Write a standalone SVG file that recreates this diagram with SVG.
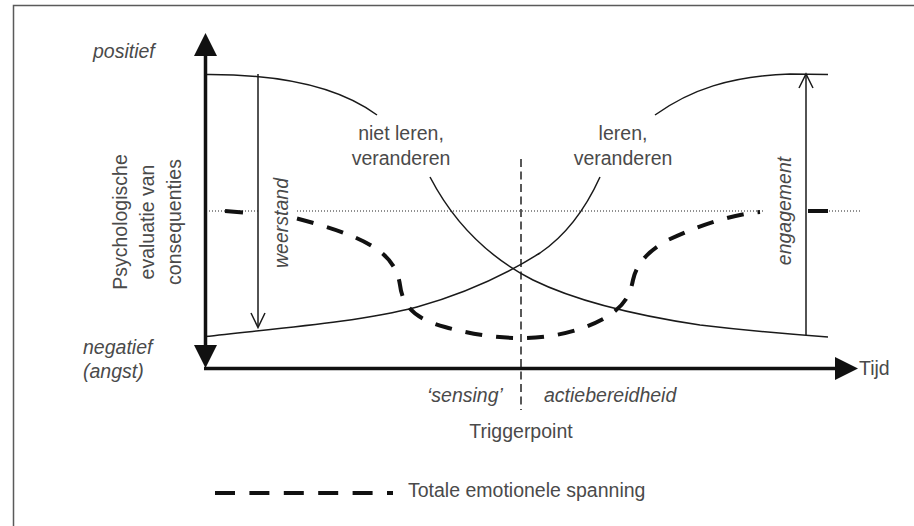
<svg xmlns="http://www.w3.org/2000/svg" width="914" height="526" viewBox="0 0 914 526">
  <style>
    .txt { font-family: "Liberation Sans", Arial, sans-serif; font-size: 19.5px; fill: #4a4a4a; }
    .it { font-style: italic; }
    .mid { text-anchor: middle; }
    .axis { stroke: #111; stroke-width: 3.5; fill: none; }
    .head { fill: #111; stroke: none; }
    .curve { stroke: #1a1a1a; stroke-width: 1.5; fill: none; }
    .tension { stroke: #111; stroke-width: 4; fill: none; }
    .dotted { stroke: #222; stroke-width: 1.2; stroke-dasharray: 1 2; fill: none; }
    .trigger { stroke: #222; stroke-width: 1.5; stroke-dasharray: 8 4.5; fill: none; }
    .measure { stroke: #1a1a1a; stroke-width: 1.5; fill: none; }
  </style>

  <rect width="914" height="526" fill="#fff"/>
  <!-- frame (open to the right and bottom) -->
  <rect x="13.5" y="5.5" width="940" height="560" fill="none" stroke="#5a5a5a" stroke-width="1.5"/>

  <!-- reference level line -->
  <g id="baseline-level">
    <line class="dotted" x1="206" y1="211" x2="258" y2="211"/>
    <line class="dotted" x1="297" y1="211" x2="763" y2="211"/>
    <line class="dotted" x1="808" y1="211" x2="860" y2="211"/>
  </g>

  <!-- trigger point divider -->
  <line id="triggerline" class="trigger" x1="521" y1="159" x2="521" y2="410"/>

  <!-- curves -->
  <g id="curves">
    <g id="niet-leren">
      <path class="curve" d="M205,74.5 C 270,74 335,84 377,115"/>
      <path class="curve" d="M430,177 C 455,225 490,258 533,280 C 580,303 640,316 700,325 C 750,331 800,335 828,337"/>
    </g>
    <g id="leren">
      <path class="curve" d="M205,336.5 C 280,328 360,322 417,307 C 470,292 510,272 540,253 C 565,236 585,210 600,177"/>
      <path class="curve" d="M655,115 C 690,90 730,76 790,74 L 828,74.5"/>
    </g>
    <g id="totale-spanning">
      <line class="tension" x1="225" y1="211" x2="243" y2="212.5"/>
      <path class="tension" stroke-dasharray="17 14" d="M297,218.5 C 325,226 352,234 372,246 C 392,258 398,272 400,285 C 403,310 420,320 445,327 C 470,334 495,338 520,338 C 550,338 580,332 605,318 C 625,306 630,295 633,280 C 637,262 650,250 668,240 C 700,225 730,215 760,212"/>
      <line class="tension" x1="808" y1="211" x2="828" y2="211"/>
    </g>
  </g>

  <!-- weerstand / engagement ranges -->
  <g id="weerstand">
    <line class="measure" x1="258" y1="74" x2="258" y2="326"/>
    <polyline class="measure" points="251,313 258,327.5 265,313"/>
    <text class="txt it mid" transform="translate(288,223) rotate(-90)">weerstand</text>
  </g>
  <g id="engagement">
    <line class="measure" x1="806" y1="335" x2="806" y2="75"/>
    <polyline class="measure" points="799,88 806,74 813,88"/>
    <text class="txt it mid" transform="translate(791,211) rotate(-90)">engagement</text>
  </g>

  <!-- axes -->
  <g id="axes">
    <line class="axis" x1="205.5" y1="54" x2="205.5" y2="347"/>
    <line class="axis" x1="204" y1="368.5" x2="837" y2="368.5"/>
    <polygon class="head" points="205.5,33 194,56 217,56"/>
    <polygon class="head" points="194,345 217,345 205.5,368"/>
    <polygon class="head" points="835,357 858,368.5 835,380"/>
  </g>

  <!-- axis labels -->
  <g id="y-labels">
    <text class="txt it" x="93" y="58">positief</text>
    <text class="txt it" x="83" y="354">negatief</text>
    <text class="txt it" x="83" y="378">(angst)</text>
    <text class="txt mid" transform="translate(127,222) rotate(-90)">Psychologische</text>
    <text class="txt mid" transform="translate(154,222) rotate(-90)">evaluatie van</text>
    <text class="txt mid" transform="translate(181,222) rotate(-90)">consequenties</text>
  </g>
  <g id="x-labels">
    <text class="txt" x="859" y="375">Tijd</text>
    <text class="txt it" x="427" y="402">‘sensing’</text>
    <text class="txt it" x="544" y="402">actiebereidheid</text>
    <text class="txt mid" x="521" y="438">Triggerpoint</text>
  </g>

  <!-- curve labels -->
  <g id="label-niet-leren">
    <text class="txt mid" x="401" y="140">niet leren,</text>
    <text class="txt mid" x="401" y="165">veranderen</text>
  </g>
  <g id="label-leren">
    <text class="txt mid" x="623" y="140">leren,</text>
    <text class="txt mid" x="623" y="165">veranderen</text>
  </g>

  <!-- legend -->
  <g id="legend">
    <line class="tension" stroke-dasharray="20 14.4" x1="215" y1="493" x2="393" y2="493"/>
    <text class="txt" x="408" y="497">Totale emotionele spanning</text>
  </g>
</svg>
